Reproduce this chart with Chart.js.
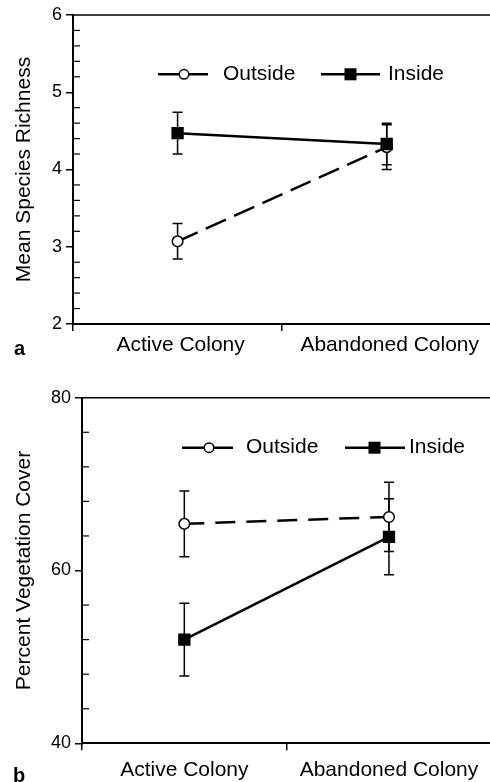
<!DOCTYPE html>
<html><head><meta charset="utf-8">
<script src="https://cdn.jsdelivr.net/npm/chart.js@4.4.0/dist/chart.umd.min.js"></script>
<style>
html,body{margin:0;padding:0;background:#fff;overflow:hidden;width:490px;height:782px;position:relative;}
#wrapA{position:absolute;left:0;top:0;width:500px;height:365px;}
#wrapB{position:absolute;left:0;top:382px;width:500px;height:400px;}
.panel{position:absolute;font-family:"Liberation Sans",Arial,sans-serif;font-weight:bold;font-size:20px;line-height:20px;color:#000;}
</style></head><body>
<div id="wrapA"><canvas id="chartA" width="500" height="365"></canvas></div>
<div id="wrapB"><canvas id="chartB" width="500" height="400"></canvas></div>
<div class="panel" style="left:14px;top:338px">a</div>
<div class="panel" style="left:13px;top:765px">b</div>
<script>
// ---- data ----
const categories = ['Active Colony', 'Abandoned Colony'];
const seriesNames = ['Outside', 'Inside'];

const richnessOutside = [3.07, 4.29];
const richnessOutsideSE = [0.23, 0.29];
const richnessInside = [4.47, 4.33];
const richnessInsideSE = [0.27, 0.27];
const richnessTicks = [2, 3, 4, 5, 6];

const coverOutside = [65.4, 66.2];
const coverOutsideSE = [3.8, 4.0];
const coverInside = [52.0, 63.9];
const coverInsideSE = [4.2, 4.4];
const coverTicks = [40, 60, 80];

// ---- drawing helpers ----
const FONT = '"Liberation Sans", Arial, Helvetica, sans-serif';

const decorPlugin = {
  id: 'decor',
  beforeDatasetsDraw(chart, args, opts) {
    const ctx = chart.ctx, y = chart.scales.y;
    ctx.save();
    ctx.strokeStyle = '#000';
    ctx.lineWidth = 1.5;
    ctx.setLineDash([]);
    chart.data.datasets.forEach((ds, i) => {
      const meta = chart.getDatasetMeta(i);
      ds.errors.forEach((e, j) => {
        const px = meta.data[j].x;
        const top = y.getPixelForValue(ds.data[j] + e);
        const bot = y.getPixelForValue(ds.data[j] - e);
        ctx.beginPath();
        ctx.moveTo(px, top); ctx.lineTo(px, bot);
        ctx.moveTo(px - opts.cap, top); ctx.lineTo(px + opts.cap, top);
        ctx.moveTo(px - opts.cap, bot); ctx.lineTo(px + opts.cap, bot);
        ctx.stroke();
      });
    });
    ctx.restore();
  },
  afterDraw(chart, args, opts) {
    const ctx = chart.ctx, a = chart.chartArea, y = chart.scales.y;
    ctx.save();
    ctx.strokeStyle = '#000';
    ctx.setLineDash([]);
    // top frame line
    ctx.lineWidth = 1.5;
    ctx.beginPath(); ctx.moveTo(a.left, a.top); ctx.lineTo(a.right, a.top); ctx.stroke();
    // inward minor ticks
    ctx.lineWidth = 1.2;
    const n = Math.round((y.max - y.min) / opts.minorStep);
    for (let k = 1; k < n; k++) {
      const v = y.min + k * opts.minorStep;
      const r = v / opts.majorStep;
      if (Math.abs(r - Math.round(r)) < 1e-6) continue;
      const py = y.getPixelForValue(v);
      ctx.beginPath(); ctx.moveTo(a.left, py); ctx.lineTo(a.left + opts.minorLen, py); ctx.stroke();
    }
    // legend
    const L = opts.legend;
    ctx.font = '21px ' + FONT;
    ctx.textBaseline = 'middle';
    ctx.textAlign = 'left';
    L.items.forEach(it => {
      const ds = chart.data.datasets[it.ds];
      ctx.strokeStyle = '#000';
      ctx.lineWidth = 2.5;
      ctx.beginPath(); ctx.moveTo(it.x0, L.y); ctx.lineTo(it.x1, L.y); ctx.stroke();
      if (ds.pointStyle === 'circle') {
        ctx.beginPath(); ctx.arc(it.mx, L.y, 4.8, 0, Math.PI * 2);
        ctx.fillStyle = '#fff'; ctx.fill();
        ctx.lineWidth = 1.5; ctx.stroke();
      } else {
        ctx.fillStyle = '#000'; ctx.fillRect(it.mx - 6, L.y - 6, 12, 12);
      }
      ctx.fillStyle = '#000';
      ctx.fillText(ds.label, it.tx, L.y);
    });
    ctx.restore();
  }
};

function makeChart(id, c) {
  return new Chart(document.getElementById(id), {
    type: 'line',
    data: {
      labels: categories,
      datasets: [
        { label: seriesNames[1], data: c.inside, errors: c.insideSE, order: 0,
          borderColor: '#000', borderWidth: 2.5, fill: false, tension: 0,
          pointStyle: 'rect', pointRadius: 8.7, pointBackgroundColor: '#000',
          pointBorderColor: '#000', pointBorderWidth: 0 },
        { label: seriesNames[0], data: c.outside, errors: c.outsideSE, order: 1,
          borderColor: '#000', borderWidth: 2.5, borderDash: c.dash, fill: false, tension: 0,
          pointStyle: 'circle', pointRadius: 5.3, pointBackgroundColor: '#fff',
          pointBorderColor: '#000', pointBorderWidth: 1.5 }
      ]
    },
    options: {
      responsive: false, animation: false, devicePixelRatio: 1,
      layout: { padding: c.padding },
      plugins: {
        legend: { display: false }, tooltip: { enabled: false },
        decor: { cap: 5, minorStep: c.minorStep, majorStep: c.majorStep, minorLen: 7, legend: c.legend }
      },
      scales: {
        x: {
          type: 'category', offset: true,
          grid: { offset: true, drawOnChartArea: false, tickLength: 7, color: '#000', lineWidth: 1.5 },
          border: { color: '#000', width: 2 },
          ticks: { color: '#000', font: { family: FONT, size: 21 }, padding: c.xPad, labelOffset: c.labelOffset, maxRotation: 0, autoSkip: false },
          afterFit(s) { s.height = c.xHeight; }
        },
        y: {
          min: c.ticks[0], max: c.ticks[c.ticks.length - 1],
          afterBuildTicks(s) { s.ticks = c.ticks.map(v => ({ value: v })); },
          grid: { drawOnChartArea: false, tickLength: 7, color: '#000', lineWidth: 1.5 },
          border: { color: '#000', width: 2 },
          ticks: { color: '#000', font: { family: FONT, size: 18 }, padding: 4 },
          title: { display: true, text: c.title, color: '#000', font: { family: FONT, size: 21 }, padding: { top: 12, bottom: 0 } },
          afterFit(s) { s.width = c.yWidth; }
        }
      }
    },
    plugins: [decorPlugin]
  });
}

makeChart('chartA', {
  inside: richnessInside, insideSE: richnessInsideSE,
  outside: richnessOutside, outsideSE: richnessOutsideSE,
  ticks: richnessTicks, minorStep: 0.2, majorStep: 1,
  title: 'Mean Species Richness',
  padding: { top: 15, right: 3, left: 0, bottom: 0 },
  yWidth: 73, xHeight: 41, xPad: 2, labelOffset: 3, dash: [22, 9],
  legend: { y: 74.3, items: [
    { ds: 1, x0: 158, x1: 208, mx: 184, tx: 223 },
    { ds: 0, x0: 321, x1: 380, mx: 350.5, tx: 388 }
  ] }
});

makeChart('chartB', {
  inside: coverInside, insideSE: coverInsideSE,
  outside: coverOutside, outsideSE: coverOutsideSE,
  ticks: coverTicks, minorStep: 4, majorStep: 20,
  title: 'Percent Vegetation Cover',
  padding: { top: 15.7, right: 2, left: 0, bottom: 0 },
  yWidth: 82, xHeight: 38.7, xPad: 7, labelOffset: 0, dash: [20, 11],
  legend: { y: 65.7, items: [
    { ds: 1, x0: 182, x1: 233, mx: 209, tx: 246 },
    { ds: 0, x0: 345, x1: 405, mx: 374.5, tx: 409 }
  ] }
});
</script>
</body></html>
